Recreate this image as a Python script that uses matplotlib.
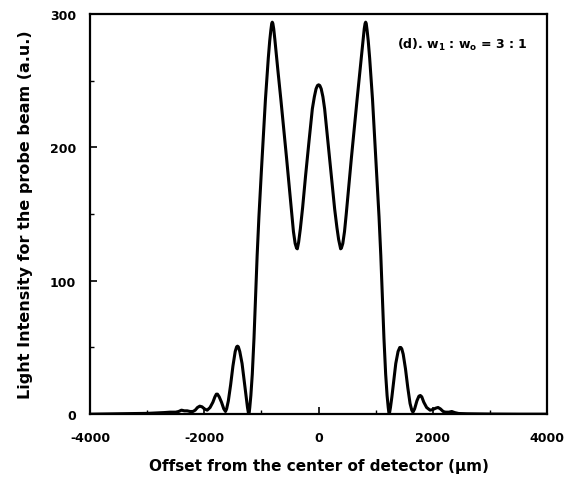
import matplotlib
matplotlib.use("Agg")
import matplotlib.pyplot as plt
from matplotlib.ticker import MultipleLocator

# Offset from the detector centre (um) and probe-beam intensity (a.u.)
offset = [-4000, -3500, -3200, -3000, -2800, -2700, -2600, -2500, -2450, -2400,
          -2350, -2300, -2250, -2200, -2160, -2120, -2080, -2040, -2000, -1950,
          -1900, -1850, -1815, -1790, -1770, -1740, -1700, -1660, -1630,
          -1610, -1580, -1540, -1500, -1460, -1435, -1420, -1405, -1380, -1340,
          -1300, -1270, -1245, -1225,
          -1214, -1205, -1186, -1161, -1131, -1103, -1076, -1045, -1001, -961,
          -931, -906, -881, -856, -836, -821, -811,
          -801, -786, -766, -741, -711, -661, -611, -561, -511, -471, -441,
          -411, -386, -373,
          -350, -320, -280, -228, -170, -110, -75, -45, -20, 0,
          20, 45, 75, 105, 163, 222, 280, 320, 350, 385,
          398, 423, 453, 483, 523, 573, 623, 673, 723, 753, 778, 798, 813, 823,
          833, 848, 868, 893, 918, 943, 973, 1013, 1057, 1088, 1115, 1143,
          1173, 1198, 1218, 1228, 1237,
          1257, 1282, 1312, 1350, 1390, 1420, 1438, 1455, 1480, 1520, 1560,
          1600, 1630, 1650, 1680, 1720, 1755, 1780, 1805, 1840, 1890, 1950,
          2000, 2050, 2090, 2130, 2180, 2220, 2280, 2330, 2380, 2450, 2600,
          2800, 3000, 3500, 4000]
intensity = [0.0, 0.3, 0.4, 0.6, 1.0, 1.2, 1.5, 1.5, 2.0, 3.0,
             2.5, 2.5, 2.0, 2.0, 3.0, 5.0, 6.0, 5.5, 4.0, 3.0,
             5.0, 9.0, 13.0, 15.0, 15.0, 13.0, 9.0, 4.0, 2.0,
             4.0, 10.0, 22.0, 36.0, 47.0, 50.5, 51.0, 50.5, 47.0, 38.0,
             24.0, 13.0, 5.0, 0.0,
             1.5, 5.0, 14.0, 30.0, 57.0, 88.0, 119.0, 148.0, 183.0, 213.0,
             236.0, 252.0, 267.0, 280.0, 288.0, 293.0, 294.0,
             293.0, 289.0, 281.0, 270.0, 257.0, 236.0, 214.0, 192.0, 169.0, 150.0, 137.0,
             128.0, 124.5, 124.0,
             129.0, 139.0, 155.0, 179.0, 204.0, 229.0, 238.0, 244.0, 246.5, 247.0,
             246.5, 244.0, 238.0, 229.0, 204.0, 179.0, 154.0, 140.0, 131.0, 124.0,
             124.5, 128.0, 137.0, 150.0, 169.0, 192.0, 214.0, 236.0, 257.0, 270.0, 281.0, 289.0, 293.0, 294.0,
             293.0, 288.0, 280.0, 267.0, 252.0, 236.0, 213.0, 183.0, 148.0, 119.0, 88.0, 57.0,
             30.0, 14.0, 5.0, 1.5, 0.0,
             5.0, 13.0, 24.0, 38.0, 47.0, 50.0, 50.0, 49.0, 45.0, 34.0, 20.0,
             8.0, 3.0, 1.5, 4.0, 10.0, 13.5, 14.0, 13.0, 9.0, 5.0, 3.0,
             3.5, 4.5, 5.0, 4.0, 2.0, 1.5, 1.5, 2.0, 1.2, 0.5, 0.3,
             0.2, 0.1, 0.0, 0.0]

x_ticks = [-4000, -2000, 0, 2000, 4000]
y_ticks = [0, 100, 200, 300]
x_label = "Offset from the center of detector (\u03bcm)"
y_label = "Light Intensity for the probe beam (a.u.)"

plt.rcParams['font.family'] = ['DejaVu Sans']
plt.rcParams['font.weight'] = 'bold'

fig = plt.figure(figsize=(5.70, 4.89), dpi=100)
ax = fig.add_axes([0.158, 0.151, 0.802, 0.818])

ax.plot(offset, intensity, color='black', linewidth=2.2,
        solid_joinstyle='round', solid_capstyle='round')

ax.set_xlim(-4000, 4000)
ax.set_ylim(0, 300)
ax.set_xticks(x_ticks)
ax.set_yticks(y_ticks)
ax.xaxis.set_minor_locator(MultipleLocator(1000))
ax.yaxis.set_minor_locator(MultipleLocator(50))
ax.set_xticklabels([str(v) for v in x_ticks])
ax.set_yticklabels([str(v) for v in y_ticks])

ax.tick_params(which='major', direction='in', length=5, width=1.2, labelsize=9, pad=12)
ax.tick_params(which='minor', direction='in', length=3, width=1.0)
ax.tick_params(axis='y', pad=10)
for lab in ax.get_xticklabels() + ax.get_yticklabels():
    lab.set_fontweight('bold')

for s in ax.spines.values():
    s.set_linewidth(1.6)

ax.set_xlabel(x_label, fontsize=11, fontweight='bold', labelpad=10)
ax.set_ylabel(y_label, fontsize=11.5, fontweight='bold', labelpad=12)

ax.text(0.672, 0.925, r"(d). w$_\mathbf{1}$ : w$_\mathbf{o}$ = 3 : 1", transform=ax.transAxes,
        fontsize=9, fontweight='bold', ha='left', va='center')

fig.savefig("out.png", dpi=100)
